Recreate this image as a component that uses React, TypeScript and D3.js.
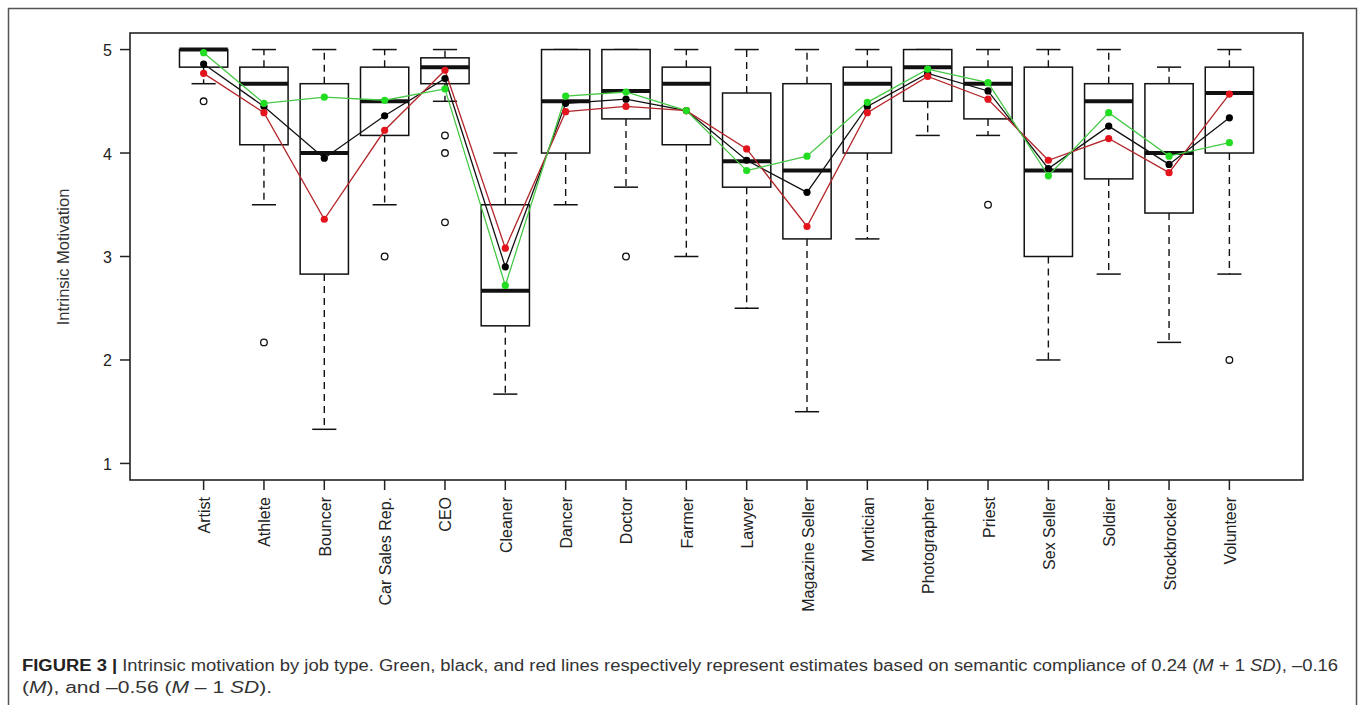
import React from "react";
import * as d3 from "d3";

// Job types on the x axis
const jobs = [
  "Artist", "Athlete", "Bouncer", "Car Sales Rep.", "CEO", "Cleaner", "Dancer", "Doctor", "Farmer",
  "Lawyer", "Magazine Seller", "Mortician", "Photographer", "Priest", "Sex Seller", "Soldier",
  "Stockbrocker", "Volunteer",
];

// Box-plot statistics per job
const whiskerLow = [4.67, 3.5, 1.33, 3.5, 4.5, 1.67, 3.5, 3.67, 3.0, 2.5, 1.5, 3.17, 4.17, 4.17, 2.0, 2.83, 2.17, 2.83];
const q1 = [4.83, 4.08, 2.83, 4.17, 4.67, 2.33, 4.0, 4.33, 4.08, 3.67, 3.17, 4.0, 4.5, 4.33, 3.0, 3.75, 3.42, 4.0];
const median = [5.0, 4.67, 4.0, 4.5, 4.83, 2.67, 4.5, 4.6, 4.67, 3.92, 3.83, 4.67, 4.83, 4.67, 3.83, 4.5, 4.0, 4.58];
const q3 = [5.0, 4.83, 4.67, 4.83, 4.92, 3.5, 5.0, 5.0, 4.83, 4.58, 4.67, 4.83, 5.0, 4.83, 4.83, 4.67, 4.67, 4.83];
const whiskerHigh = [5, 5, 5, 5, 5, 4.0, 5, 5, 5, 5, 5, 5, 5, 5, 5, 5, 4.83, 5];
const outliers: number[][] = [
  [4.5], [2.17], [], [3.0], [4.17, 4.0, 3.33], [], [], [3.0], [], [], [], [], [], [3.5], [], [], [], [2.0],
];

// Estimated means at three levels of semantic compliance
const estHigh = [4.97, 4.48, 4.54, 4.51, 4.62, 2.72, 4.55, 4.59, 4.41, 3.83, 3.97, 4.49, 4.81, 4.68, 3.78, 4.39, 3.97, 4.10];
const estMean = [4.86, 4.45, 3.95, 4.36, 4.72, 2.90, 4.48, 4.52, 4.41, 3.93, 3.62, 4.45, 4.77, 4.60, 3.85, 4.26, 3.89, 4.34];
const estLow = [4.77, 4.39, 3.36, 4.22, 4.80, 3.08, 4.40, 4.45, 4.41, 4.04, 3.29, 4.39, 4.74, 4.52, 3.93, 4.14, 3.81, 4.57];

const yTicks = [1, 2, 3, 4, 5];

const series = [
  { values: estMean, line: "#111111", dot: "#000000" },
  { values: estLow, line: "#b3262a", dot: "#e3141c" },
  { values: estHigh, line: "#46c846", dot: "#22dd22" },
];

const W = 1360;
const H = 705;
const plot = { left: 130, right: 1303, top: 33, bottom: 480 };
const n = jobs.length;
const pad = 0.04 * n;

const x = d3.scaleLinear().domain([0.5 - pad, n + 0.5 + pad]).range([plot.left, plot.right]);
const y = d3.scaleLinear().domain([0.84, 5.16]).range([plot.bottom, plot.top]);

const unit = x(2) - x(1);
const boxHalf = unit * 0.4;
const capHalf = unit * 0.2;

const font = "'Liberation Sans', Arial, Helvetica, sans-serif";

export default function App() {
  const line = d3
    .line<number>()
    .x((_, i) => x(i + 1))
    .y((v) => y(v));

  return (
    <svg
      width={W}
      height={H}
      viewBox={`0 0 ${W} ${H}`}
      style={{ position: "absolute", left: 0, top: 0, background: "#fff" }}
      fontFamily={font}
    >
      <rect x={0} y={0} width={W} height={H} fill="#fff" />
      {/* figure frame */}
      <path d={`M8.5,${H + 2} V8.5 H1356.5 V${H + 2}`} fill="none" stroke="#555" strokeWidth={1.5} />

      {/* boxes */}
      {jobs.map((job, i) => {
        const cx = x(i + 1);
        return (
          <g key={job} stroke="#111" fill="none">
            <line x1={cx} x2={cx} y1={y(q3[i])} y2={y(whiskerHigh[i])} strokeWidth={1.4} strokeDasharray="7,5" />
            <line x1={cx} x2={cx} y1={y(q1[i])} y2={y(whiskerLow[i])} strokeWidth={1.4} strokeDasharray="7,5" />
            <line x1={cx - capHalf} x2={cx + capHalf} y1={y(whiskerHigh[i])} y2={y(whiskerHigh[i])} strokeWidth={1.5} />
            <line x1={cx - capHalf} x2={cx + capHalf} y1={y(whiskerLow[i])} y2={y(whiskerLow[i])} strokeWidth={1.5} />
            <rect
              x={cx - boxHalf}
              y={y(q3[i])}
              width={boxHalf * 2}
              height={y(q1[i]) - y(q3[i])}
              fill="#fff"
              strokeWidth={1.5}
            />
            <line x1={cx - boxHalf} x2={cx + boxHalf} y1={y(median[i])} y2={y(median[i])} strokeWidth={4} />
            {outliers[i].map((v, k) => (
              <circle key={k} cx={cx} cy={y(v)} r={3.3} strokeWidth={1.3} fill="#fff" />
            ))}
          </g>
        );
      })}

      {/* estimate lines */}
      {series.map((s, k) => (
        <path key={k} d={line(s.values) || ""} fill="none" stroke={s.line} strokeWidth={1.3} />
      ))}
      {series.map((s, k) => (
        <g key={k} fill={s.dot}>
          {s.values.map((v, i) => (
            <circle key={i} cx={x(i + 1)} cy={y(v)} r={3.6} />
          ))}
        </g>
      ))}

      {/* plot frame */}
      <rect
        x={plot.left}
        y={plot.top}
        width={plot.right - plot.left}
        height={plot.bottom - plot.top}
        fill="none"
        stroke="#222"
        strokeWidth={1.6}
      />

      {/* y axis */}
      {yTicks.map((t) => (
        <g key={t}>
          <line x1={plot.left - 10} x2={plot.left} y1={y(t)} y2={y(t)} stroke="#222" strokeWidth={1.5} />
          <text x={112} y={y(t) + 1} textAnchor="end" dominantBaseline="central" fontSize={16} fill="#222">
            {t}
          </text>
        </g>
      ))}
      <text
        transform={`translate(63,257) rotate(-90)`}
        textAnchor="middle"
        dominantBaseline="central"
        fontSize={16.5}
        fill="#333"
      >
        Intrinsic Motivation
      </text>

      {/* x axis */}
      {jobs.map((job, i) => {
        const cx = x(i + 1);
        return (
          <g key={job}>
            <line x1={cx} x2={cx} y1={plot.bottom} y2={plot.bottom + 10} stroke="#222" strokeWidth={1.5} />
            <text
              transform={`translate(${cx + 1},497) rotate(-90)`}
              textAnchor="end"
              dominantBaseline="central"
              fontSize={16}
              fill="#222"
            >
              {job}
            </text>
          </g>
        );
      })}

      {/* caption */}
      <text x={22} y={671} fontSize={16} fill="#333" textLength={1316} lengthAdjust="spacingAndGlyphs">
        <tspan fontWeight="bold" fill="#222">FIGURE 3 |</tspan>
        <tspan> Intrinsic motivation by job type. Green, black, and red lines respectively represent estimates based on semantic compliance of 0.24 (</tspan>
        <tspan fontStyle="italic">M</tspan>
        <tspan> + 1 </tspan>
        <tspan fontStyle="italic">SD</tspan>
        <tspan>), –0.16</tspan>
      </text>
      <text x={22} y={693} fontSize={16} fill="#333" textLength={250} lengthAdjust="spacingAndGlyphs">
        <tspan>(</tspan>
        <tspan fontStyle="italic">M</tspan>
        <tspan>), and –0.56 (</tspan>
        <tspan fontStyle="italic">M</tspan>
        <tspan> – 1 </tspan>
        <tspan fontStyle="italic">SD</tspan>
        <tspan>).</tspan>
      </text>
    </svg>
  );
}
